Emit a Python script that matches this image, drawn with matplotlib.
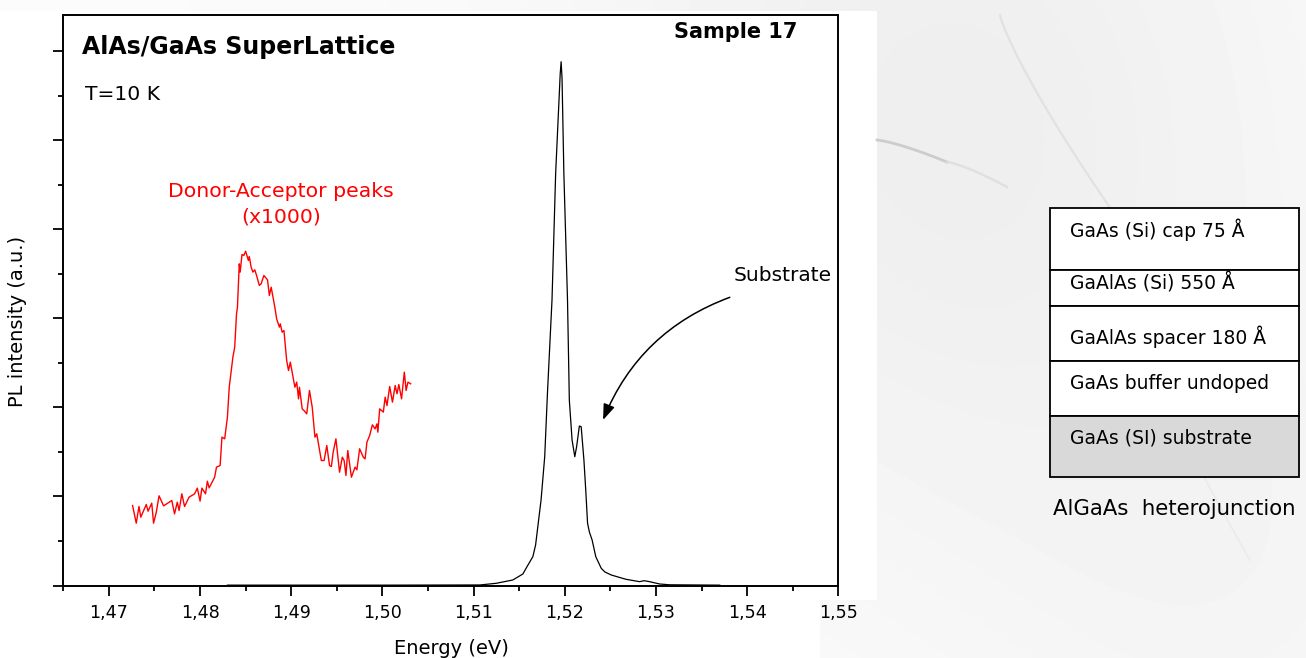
import matplotlib
matplotlib.use('Agg')
import matplotlib.pyplot as plt
from matplotlib.patches import Rectangle
from matplotlib.ticker import MultipleLocator
import numpy as np

### Data ###
# red curve: donor-acceptor band, scaled x1000
da_energy = [1.4726, 1.4730, 1.4733, 1.4735, 1.4741, 1.4743, 1.4747, 1.4749, 1.4752, 1.4755,
             1.4760, 1.4769, 1.4772, 1.4775, 1.4777, 1.4780, 1.4783, 1.4788, 1.4794, 1.4797,
             1.4800, 1.4802, 1.4806, 1.4808, 1.4810, 1.4816, 1.4818, 1.4822, 1.4824, 1.4827,
             1.4830, 1.4832, 1.4836, 1.4838, 1.4840, 1.4841, 1.4843, 1.4844, 1.4846, 1.4848,
             1.4850, 1.4853, 1.4854, 1.4856, 1.4858, 1.4860, 1.4862, 1.4865, 1.4867, 1.4870,
             1.4874, 1.4876, 1.4878, 1.4882, 1.4884, 1.4887, 1.4888, 1.4890, 1.4892, 1.4895,
             1.4897, 1.4899, 1.4902, 1.4904, 1.4906, 1.4908, 1.4909, 1.4912, 1.4914, 1.4917,
             1.4920, 1.4923, 1.4926, 1.4928, 1.4933, 1.4936, 1.4939, 1.4942, 1.4944, 1.4946,
             1.4949, 1.4953, 1.4956, 1.4958, 1.4960, 1.4962, 1.4966, 1.4970, 1.4972, 1.4975,
             1.4979, 1.4981, 1.4983, 1.4986, 1.4989, 1.4992, 1.4994, 1.4995, 1.4997, 1.5001,
             1.5003, 1.5005, 1.5008, 1.5011, 1.5014, 1.5016, 1.5018, 1.5021, 1.5024, 1.5026,
             1.5028, 1.5031]
da_pl = [0.899, 0.700, 0.888, 0.768, 0.910, 0.835, 0.925, 0.700, 0.824, 1.008,
         0.895, 0.955, 0.805, 0.936, 0.843, 1.030, 0.888, 0.993, 1.030, 1.094,
         0.948, 1.094, 1.030, 1.172, 1.097, 1.217, 1.330, 1.348, 1.667, 1.648,
         1.891, 2.228, 2.566, 2.678, 3.053, 3.127, 3.614, 3.521, 3.719, 3.708,
         3.756, 3.652, 3.697, 3.577, 3.521, 3.547, 3.483, 3.371, 3.390, 3.483,
         3.434, 3.258, 3.352, 3.127, 2.996, 2.903, 2.940, 2.846, 2.865, 2.528,
         2.416, 2.509, 2.341, 2.228, 2.285, 2.097, 2.228, 1.985, 1.966, 1.929,
         2.191, 2.004, 1.667, 1.704, 1.404, 1.404, 1.573, 1.348, 1.337, 1.498,
         1.648, 1.273, 1.442, 1.404, 1.236, 1.517, 1.217, 1.330, 1.300, 1.536,
         1.442, 1.423, 1.610, 1.685, 1.805, 1.760, 1.816, 1.723, 1.985, 1.948,
         2.116, 2.022, 2.236, 2.060, 2.247, 2.154, 2.258, 2.097, 2.397, 2.191,
         2.285, 2.266]

# black curve: main exciton peak + substrate shoulder
ex_energy = [1.4830, 1.5000, 1.5107, 1.5125, 1.5143, 1.5154, 1.5159, 1.5165, 1.5168, 1.5170,
             1.5174, 1.5178, 1.5181, 1.5186, 1.5190, 1.5195, 1.5196, 1.5197, 1.5199, 1.5203,
             1.5205, 1.5208, 1.5211, 1.5213, 1.5216, 1.5218, 1.5221, 1.5223, 1.5225, 1.5227,
             1.5230, 1.5234, 1.5240, 1.5244, 1.5251, 1.5267, 1.5282, 1.5287, 1.5293, 1.5304,
             1.5315, 1.5370]
ex_pl = [0.004, 0.004, 0.006, 0.025, 0.062, 0.129, 0.219, 0.324, 0.455, 0.624,
         0.961, 1.447, 2.160, 3.208, 4.631, 5.750, 5.885, 5.700, 4.631, 3.208,
         2.084, 1.635, 1.447, 1.560, 1.792, 1.784, 1.410, 1.073, 0.699, 0.601,
         0.511, 0.324, 0.193, 0.152, 0.118, 0.070, 0.043, 0.054, 0.043, 0.017,
         0.008, 0.004]

xticks = [1.47, 1.48, 1.49, 1.50, 1.51, 1.52, 1.53, 1.54, 1.55]
xtick_labels = ['1,47', '1,48', '1,49', '1,50', '1,51', '1,52', '1,53', '1,54', '1,55']

layer_names = ['GaAs (Si) cap 75 Å', 'GaAlAs (Si) 550 Å', 'GaAlAs spacer 180 Å',
               'GaAs buffer undoped', 'GaAs (SI) substrate']
layer_colors = ['white', 'white', 'white', 'white', '#d9d9d9']

### Figure ###
W, H = 1306, 658
fig = plt.figure(figsize=(W / 100, H / 100), dpi=100)

# background layer in pixel coordinates
ov = fig.add_axes([0, 0, 1, 1], zorder=0)
ov.set_xlim(0, W)
ov.set_ylim(H, 0)
ov.axis('off')

yy, xx = np.mgrid[0:H, 0:W]
bg = 0.985 - 0.05 * np.exp(-((xx - 950) ** 2 / (2 * 260 ** 2) + (yy - 120) ** 2 / (2 * 300 ** 2)))
bg -= 0.02 * np.exp(-((xx - 1250) ** 2 + (yy - 600) ** 2) / (2 * 200 ** 2))
white = (xx < 877) & (yy > 10) & (yy < 600)
bg[white] = 1.0
bg[(yy >= 600) & (xx < 820)] = 1.0
ov.imshow(bg, cmap='gray', vmin=0, vmax=1, extent=(0, W, H, 0), aspect='auto', zorder=0)

# faint streaks of the background picture
t = np.linspace(0, 1, 50)
ov.plot(877 + 70 * t, 140 + 22 * t ** 1.3, color='#c4c4c4', lw=2.0, alpha=0.8, zorder=1)
ov.plot(947 + 60 * t, 162 + 25 * t ** 1.3, color='#dddddd', lw=1.8, alpha=0.8, zorder=1)
ov.plot(1000 + 115 * t ** 1.2, 15 + 200 * t, color='#dcdcdc', lw=1.6, alpha=0.7, zorder=1)
ov.plot(1130 + 120 * t, 300 + 260 * t ** 0.8, color='#e8e8e8', lw=1.3, alpha=0.7, zorder=1)

# layer stack
edges = [208, 270, 306, 361, 416, 477]
text_base = [237, 290, 344, 389, 444]
for i in range(len(layer_names)):
    ov.add_patch(Rectangle((1050, edges[i]), 249, edges[i + 1] - edges[i],
                           facecolor=layer_colors[i], edgecolor='black', lw=1.3, zorder=2))
    ov.text(1070, text_base[i], layer_names[i], fontsize=13.5, va='baseline', ha='left', zorder=3)
ov.text(1053, 515, 'AlGaAs  heterojunction', fontsize=15.3, va='baseline', ha='left')

ov.text(451, 648, 'Energy (eV)', fontsize=14, ha='center', va='center')
ov.text(18, 321, 'PL intensity (a.u.)', fontsize=14, rotation=90, ha='center', va='center')

# main plot
x0, x1, y0, y1 = 63.3, 838.3, 15, 585.5
ax = fig.add_axes([x0 / W, 1 - y1 / H, (x1 - x0) / W, (y1 - y0) / H], zorder=2)
ax.set_facecolor('white')

ax.plot(ex_energy, ex_pl, color='black', lw=0.9)
ax.plot(da_energy, da_pl, color='red', lw=1.0)

ax.set_xlim(1.465, 1.55)
ax.set_ylim(0, 6.41)
ax.set_xticks(xticks)
ax.set_xticklabels(xtick_labels)
ax.xaxis.set_minor_locator(MultipleLocator(0.005))
ax.set_yticks(range(7))
ax.set_yticklabels([])
ax.yaxis.set_minor_locator(MultipleLocator(0.5))
ax.tick_params(which='major', direction='out', length=7.5, width=1.3, labelsize=12.6, pad=6)
ax.tick_params(which='minor', direction='out', length=3.5, width=1.3)
for s in ax.spines.values():
    s.set_linewidth(1.4)


def axpos(px, py):
    return (px - x0) / (x1 - x0), (y1 - py) / (y1 - y0)


ax.text(*axpos(82, 54), 'AlAs/GaAs SuperLattice', transform=ax.transAxes,
        fontsize=17, fontweight='bold', va='baseline', ha='left')
ax.text(*axpos(797, 38), 'Sample 17', transform=ax.transAxes,
        fontsize=15, fontweight='bold', va='baseline', ha='right')
ax.text(*axpos(85, 100), 'T=10 K', transform=ax.transAxes,
        fontsize=14.6, va='baseline', ha='left')
ax.text(*axpos(281, 196.7), 'Donor-Acceptor peaks', transform=ax.transAxes,
        fontsize=14.7, color='red', va='baseline', ha='center')
ax.text(*axpos(281, 222.7), '(x1000)', transform=ax.transAxes,
        fontsize=14.7, color='red', va='baseline', ha='center')
ax.text(*axpos(734, 280.7), 'Substrate', transform=ax.transAxes,
        fontsize=14.5, va='baseline', ha='left')

ax.annotate('', xy=(1.5242, 1.86), xytext=(1.5381, 3.238),
            arrowprops=dict(arrowstyle='-|>,head_length=0.95,head_width=0.35',
                            mutation_scale=10, connectionstyle='arc3,rad=0.22',
                            color='black', lw=1.1, shrinkA=0, shrinkB=0))

plt.savefig('out.png', dpi=100)
